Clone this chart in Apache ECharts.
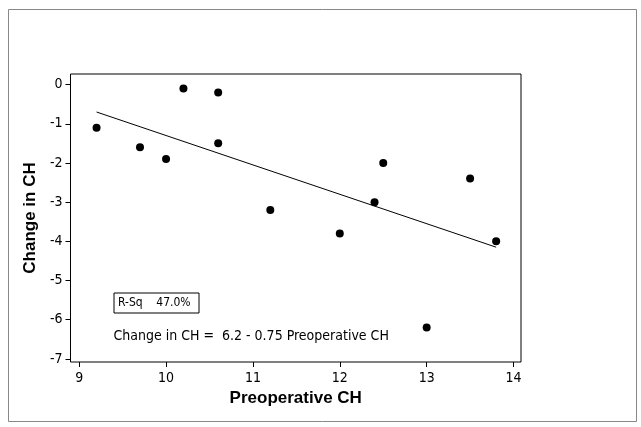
<!DOCTYPE html>
<html><head><meta charset="utf-8">
<script src="https://cdn.jsdelivr.net/npm/echarts@6/dist/echarts.min.js"></script>
<style>html,body{margin:0;padding:0;background:#fff}#c{width:641px;height:427px}</style>
</head><body><div id="c"></div>
<script>
var preopCH = [9.2, 9.7, 10.0, 10.2, 10.6, 10.6, 11.2, 12.0, 12.4, 12.5, 13.0, 13.5, 13.8];
var changeCH = [-1.1, -1.6, -1.9, -0.1, -0.2, -1.5, -3.2, -3.8, -3.0, -2.0, -6.2, -2.4, -4.0];
var fitX = [9.2, 13.8];
var fitY = [-0.7, -4.15];
var xTicks = [9, 10, 11, 12, 13, 14];
var yTicks = [0, -1, -2, -3, -4, -5, -6, -7];
var rsqText = 'R-Sq    47.0%';
var eqText = 'Change in CH =  6.2 - 0.75 Preoperative CH';

var pts = preopCH.map(function(x, i){ return [x, changeCH[i]]; });
var fit = fitX.map(function(x, i){ return [x, fitY[i]]; });
var font = 'Tahoma, "DejaVu Sans Condensed", "Liberation Sans", sans-serif';
var chart = echarts.init(document.getElementById('c'), null, {renderer:'canvas'});
chart.setOption({
  animation:false,
  backgroundColor:'#fff',
  grid:{left:70.5, top:74, width:450.5, height:288, show:true, borderColor:'#000', borderWidth:1, backgroundColor:'#fff'},
  xAxis:{type:'value', min:8.9, max:14.086,
    name:'Preoperative CH', nameLocation:'middle', nameGap:28,
    nameTextStyle:{fontFamily:'"Liberation Sans", Arial', fontWeight:'bold', fontSize:17, color:'#000'},
    axisLine:{show:false, onZero:false}, splitLine:{show:false},
    axisTick:{show:true, length:5, customValues:xTicks, lineStyle:{color:'#000'}},
    axisLabel:{customValues:xTicks, margin:9, fontFamily:font, fontSize:14, color:'#000'}},
  yAxis:{type:'value', min:-7.08, max:0.27,
    name:'Change in CH', nameLocation:'middle', nameGap:27, nameRotate:90,
    nameTextStyle:{fontFamily:'"Liberation Sans", Arial', fontWeight:'bold', fontSize:17, color:'#000'},
    axisLine:{show:false, onZero:false}, splitLine:{show:false},
    axisTick:{show:true, length:5, customValues:yTicks, lineStyle:{color:'#000'}},
    axisLabel:{customValues:yTicks, margin:8, fontFamily:font, fontSize:14, color:'#000'}},
  series:[
    {type:'scatter', data:pts, symbol:'circle', symbolSize:8, itemStyle:{color:'#000', opacity:1}, z:3},
    {type:'line', data:fit, symbol:'none', lineStyle:{color:'#000', width:1}, z:2}
  ],
  graphic:[
    {type:'rect', left:6, top:7, shape:{width:628, height:412}, style:{fill:'none', stroke:'#888', lineWidth:1}, z:-1, silent:true},
    {type:'rect', left:113.5, top:292.5, shape:{width:85, height:20}, style:{fill:'#fff', stroke:'#000', lineWidth:1}, z:10},
    {type:'text', left:118, top:297, style:{text:rsqText, fontFamily:font, fontSize:12, fill:'#000'}, z:11},
    {type:'text', left:113.5, top:329, style:{text:eqText, fontFamily:font, fontSize:14, fill:'#000'}, z:11}
  ]
});
</script></body></html>
